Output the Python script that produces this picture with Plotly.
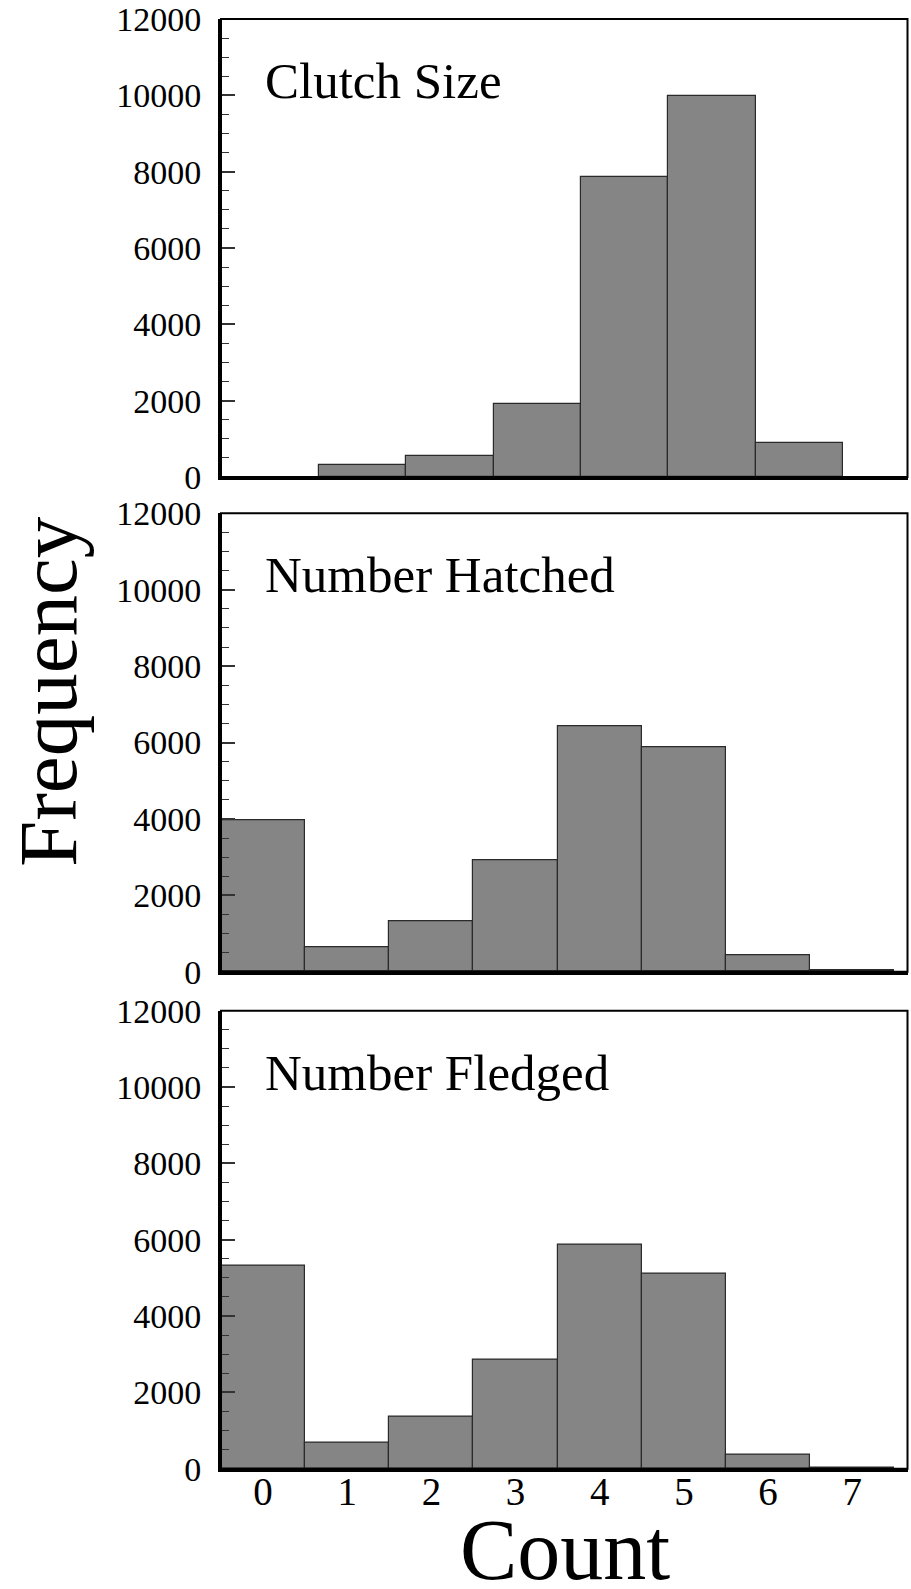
import plotly.graph_objects as go

# ---- data ----
clutch_bins = [1, 2, 3, 4, 5, 6]
clutch_freq = [322, 552, 1915, 7852, 9990, 885]

count_bins = [0, 1, 2, 3, 4, 5, 6, 7]
hatched_freq = [3955, 639, 1328, 2926, 6419, 5879, 419, 25]
fledged_freq = [5319, 673, 1371, 2856, 5869, 5118, 367, 25]

panel_titles = ["Clutch Size", "Number Hatched", "Number Fledged"]
y_ticks = [0, 2000, 4000, 6000, 8000, 10000, 12000]
x_ticks = [0, 1, 2, 3, 4, 5, 6, 7]
x_title = "Count"
y_title = "Frequency"

# ---- layout geometry (pixels) ----
W, H = 911, 1589
FONT = "Liberation Serif, Times New Roman, serif"
left_px, right_px = 221, 907.5
panels_px = [(19, 477), (513.3, 971.7), (1010.7, 1468.7)]  # (top, bottom)


def py(p):
    return 1 - p / H


def px(p):
    return p / W


BAR_FILL = "#858585"
BAR_LINE = "#2a2a2a"

fig = go.Figure()
series = [(clutch_bins, clutch_freq), (count_bins, hatched_freq), (count_bins, fledged_freq)]
for i, (xs, ys) in enumerate(series):
    sfx = "" if i == 0 else str(i + 1)
    fig.add_trace(go.Bar(
        x=xs, y=ys, width=1.0,
        marker=dict(color=BAR_FILL, line=dict(color=BAR_LINE, width=1.2)),
        xaxis="x" + sfx, yaxis="y" + sfx, showlegend=False, hoverinfo="skip",
    ))

x_ranges = [[-0.617, 7.233], [-0.5, 7.657], [-0.5, 7.657]]

layout = dict(
    width=W, height=H, autosize=False,
    margin=dict(l=0, r=0, t=0, b=0, pad=0, autoexpand=False),
    paper_bgcolor="white", plot_bgcolor="white",
    font=dict(family=FONT, color="black"),
    bargap=0,
    showlegend=False,
)

annotations = []
shapes = []
for i in range(3):
    sfx = "" if i == 0 else str(i + 1)
    top, bot = panels_px[i]
    layout["xaxis" + sfx] = dict(
        domain=[px(left_px), px(right_px)],
        anchor="y" + sfx,
        range=x_ranges[i],
        automargin=False,
        showgrid=False, zeroline=False,
        showline=True, linecolor="black", linewidth=3,
        ticks="",
        tickvals=x_ticks if i == 2 else [],
        ticktext=[str(v) for v in x_ticks] if i == 2 else [],
        showticklabels=(i == 2),
        tickfont=dict(family=FONT, size=39, color="black"),
        ticklabelstandoff=-14,
    )
    layout["yaxis" + sfx] = dict(
        domain=[py(bot), py(top)],
        anchor="x" + sfx,
        range=[0, 12000],
        automargin=False,
        showgrid=False, zeroline=False,
        showline=True, linecolor="black", linewidth=3,
        ticks="inside", ticklen=14, tickwidth=1.5, tickcolor="#333333",
        tickvals=y_ticks,
        ticktext=[str(v) for v in y_ticks],
        tickfont=dict(family=FONT, size=34, color="black"),
        ticklabelstandoff=10,
        minor=dict(dtick=500, tick0=0, ticks="inside", ticklen=8,
                   tickwidth=1.2, tickcolor="#333333", showgrid=False),
    )
    shapes.append(dict(
        type="rect", xref="x" + sfx + " domain", yref="y" + sfx + " domain",
        x0=0, x1=1, y0=0, y1=1, line=dict(color="black", width=2),
        fillcolor="rgba(0,0,0,0)", layer="above",
    ))
    annotations.append(dict(
        text=panel_titles[i], xref="paper", yref="paper",
        x=px(263), y=py(top + 62), xanchor="left", yanchor="middle",
        showarrow=False, font=dict(family=FONT, size=51, color="black"),
    ))

annotations.append(dict(
    text=y_title, xref="paper", yref="paper", x=px(48), y=py(692),
    xanchor="center", yanchor="middle", textangle=-90, showarrow=False,
    font=dict(family=FONT, size=83, color="black"),
))
annotations.append(dict(
    text=x_title, xref="paper", yref="paper", x=px(565), y=py(1550),
    xanchor="center", yanchor="middle", showarrow=False,
    font=dict(family=FONT, size=86, color="black"),
))

layout["annotations"] = annotations
layout["shapes"] = shapes
fig.update_layout(**layout)

fig.write_html("out.html")
